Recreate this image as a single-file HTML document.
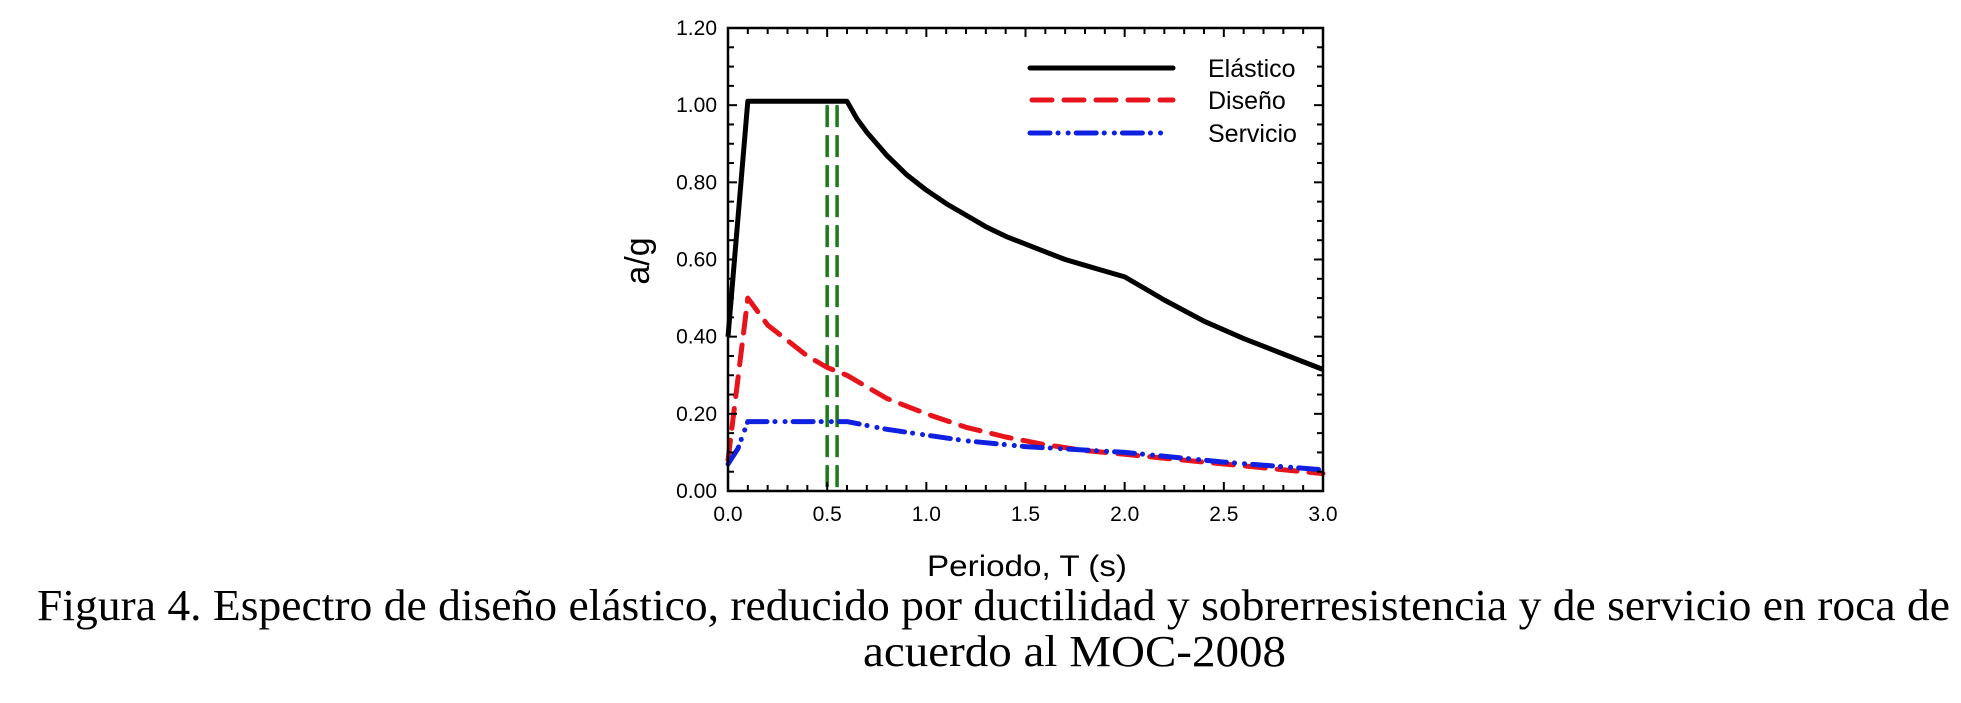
<!DOCTYPE html>
<html><head><meta charset="utf-8"><style>
html,body{margin:0;padding:0;background:#fff;}
svg{display:block;}
</style></head><body>
<svg id="chart" width="1961" height="703" viewBox="0 0 1961 703" xmlns="http://www.w3.org/2000/svg">
<g id="plot"></g>
<g id="legend">
 <line x1="1030" y1="68" x2="1173" y2="68" stroke="#000" stroke-width="5" stroke-linecap="round"/>
 <text x="1208" y="77" font-family="Liberation Sans, sans-serif" font-size="25">Elástico</text>
 <line x1="1032" y1="100" x2="1173" y2="100" stroke="#e8141c" stroke-width="5" stroke-dasharray="20,12" stroke-linecap="round"/>
 <text x="1208" y="109" font-family="Liberation Sans, sans-serif" font-size="25">Diseño</text>
 <line x1="1030" y1="133" x2="1165" y2="133" stroke="#1020e0" stroke-width="5" stroke-dasharray="20,8,0.1,10,0.1,8" stroke-linecap="round"/>
 <text x="1208" y="142" font-family="Liberation Sans, sans-serif" font-size="25">Servicio</text>
</g>
<text x="638" y="261" transform="rotate(-90 638 261)" text-anchor="middle" dominant-baseline="central" font-family="Liberation Sans, sans-serif" font-size="34">a/g</text>
<text x="927" y="576" textLength="200" lengthAdjust="spacingAndGlyphs" font-family="Liberation Sans, sans-serif" font-size="30">Periodo, T (s)</text>
<text x="37" y="620" textLength="1913" lengthAdjust="spacingAndGlyphs" font-family="Liberation Serif, serif" font-size="44">Figura 4. Espectro de diseño elástico, reducido por ductilidad y sobrerresistencia y de servicio en roca de</text>
<text x="863" y="666" textLength="423" lengthAdjust="spacingAndGlyphs" font-family="Liberation Serif, serif" font-size="44">acuerdo al MOC-2008</text>
</svg>
<script>
const elasticT = [0, 0.1, 0.6, 0.65, 0.7, 0.75, 0.8, 0.9, 1.0, 1.1, 1.2, 1.3, 1.4, 1.5, 1.6, 1.7, 1.8, 1.9, 2.0, 2.1, 2.2, 2.4, 2.6, 2.8, 3.0];
const elasticV = [0.40, 1.01, 1.01, 0.965, 0.93, 0.90, 0.87, 0.82, 0.78, 0.745, 0.715, 0.685, 0.66, 0.64, 0.62, 0.60, 0.585, 0.57, 0.555, 0.525, 0.495, 0.44, 0.395, 0.355, 0.315];
const designT = [0, 0.1, 0.2, 0.3, 0.4, 0.5, 0.6, 0.8, 1.0, 1.2, 1.4, 1.6, 1.8, 2.0, 2.2, 2.4, 2.6, 2.8, 3.0];
const designV = [0.08, 0.50, 0.43, 0.39, 0.35, 0.32, 0.30, 0.24, 0.20, 0.165, 0.14, 0.12, 0.105, 0.095, 0.085, 0.075, 0.065, 0.055, 0.045];
const serviceT = [0, 0.05, 0.1, 0.6, 0.8, 1.0, 1.2, 1.5, 2.0, 2.5, 3.0];
const serviceV = [0.07, 0.11, 0.18, 0.18, 0.16, 0.145, 0.13, 0.115, 0.10, 0.075, 0.055];
const markerT = [0.5, 0.55];
const markerTop = 1.0;
const xTickLabels = ["0.0","0.5","1.0","1.5","2.0","2.5","3.0"];
const yTickLabels = ["0.00","0.20","0.40","0.60","0.80","1.00","1.20"];

const L=728,R=1323,T=28,B=491;
const xs=v=>L+(v/3)*(R-L);
const ys=v=>B-(v/1.2)*(B-T);
const NS="http://www.w3.org/2000/svg";
const plot=document.getElementById('plot');
function mk(tag,attrs){const e=document.createElementNS(NS,tag);for(const k in attrs)e.setAttribute(k,attrs[k]);plot.appendChild(e);return e;}

function series(t,v,color,dash,name){
  const d=t.map((x,i)=>(i?'L':'M')+xs(x).toFixed(1)+','+ys(v[i]).toFixed(1)).join(' ');
  const p=mk('path',{d:d,fill:'none',stroke:color,'stroke-width':5,'stroke-linejoin':'round','stroke-linecap':dash?'round':'butt'});
  if(dash)p.setAttribute('stroke-dasharray',dash);
  
  
}
markerT.forEach((m,i)=>{
  const l=mk('line',{x1:xs(m),x2:xs(m),y1:ys(markerTop),y2:B,stroke:'#1a7a1a','stroke-width':3.5,'stroke-dasharray':'22,8'});
  
  
});
series(designT,designV,'#e8141c','20,12','series-diseno');
series(serviceT,serviceV,'#1020e0','20,8,0.1,10,0.1,8','series-servicio');
series(elasticT,elasticV,'#000',null,'series-elastico');

const fr=mk('rect',{x:L,y:T,width:R-L,height:B-T,fill:'none',stroke:'#000','stroke-width':2.5});



for(let i=0;i<=30;i++){
  const v=i/10, major=i%5===0, len=major?9:6, x=xs(v);
  const a=mk('line',{x1:x,x2:x,y1:B,y2:B-len,stroke:'#000','stroke-width':2});
  
  
  const b=mk('line',{x1:x,x2:x,y1:T,y2:T+len,stroke:'#000','stroke-width':2});
  
  
}
xTickLabels.forEach((s,i)=>{
  const t=mk('text',{x:xs(i*0.5),y:521,'text-anchor':'middle','font-family':'Liberation Sans, sans-serif','font-size':21});
  t.textContent=s;
  
  
});
for(let i=0;i<=24;i++){
  const v=i*0.05, major=i%4===0, len=major?9:6, y=ys(v);
  const a=mk('line',{x1:L,x2:L+len,y1:y,y2:y,stroke:'#000','stroke-width':2});
  
  
  const b=mk('line',{x1:R,x2:R-len,y1:y,y2:y,stroke:'#000','stroke-width':2});
  
  
}
yTickLabels.forEach((s,i)=>{
  const t=mk('text',{x:717,y:ys(i*0.2)+7,'text-anchor':'end','font-family':'Liberation Sans, sans-serif','font-size':21});
  t.textContent=s;
  
  
});
</script>
</body></html>
